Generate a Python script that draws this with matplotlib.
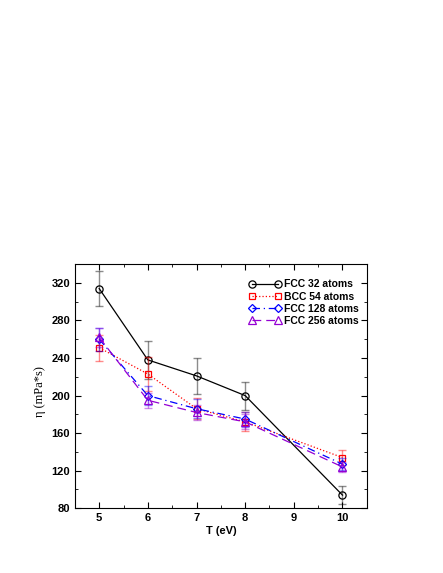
import matplotlib
matplotlib.use("Agg")
import matplotlib.pyplot as plt
from matplotlib.ticker import MultipleLocator

plt.rcParams["font.family"] = ["Liberation Sans", "DejaVu Sans"]
plt.rcParams["font.weight"] = "bold"

temps = [5, 6, 7, 8, 10]

fcc32 = [314, 238, 221, 200, 94]
fcc32_err = [19, 20, 19, 15, 10]

bcc54 = [251, 223, 186, 172, 134]
bcc54_err = [14, 18, 11, 10, 8]

fcc128 = [260, 200, 186, 175, 127]
fcc128_err = [12, 10, 10, 8, 6]

fcc256 = [262, 195, 182, 172, 124]
fcc256_err = [10, 8, 8, 8, 5]

series = [
    ("FCC 32 atoms", fcc32, fcc32_err, "black", "-", "o", 5.2),
    ("BCC 54 atoms", bcc54, bcc54_err, "red", ":", "s", 4.3),
    ("FCC 128 atoms", fcc128, fcc128_err, "blue", (0, (6, 3, 1, 3)), "D", 3.8),
    ("FCC 256 atoms", fcc256, fcc256_err, "#9400d3", (0, (7, 4)), "^", 5.2),
]

fig = plt.figure(figsize=(4.43, 5.73), dpi=100)
ax = fig.add_axes([0.169, 0.113, 0.659, 0.426])

for label, vals, errs, color, ls, marker, ms in series:
    ax.errorbar(temps, vals, yerr=errs, fmt="none", ecolor=color, alpha=0.45,
                elinewidth=1.0, capsize=3, capthick=1.0)
    ax.plot(temps, vals, color=color, linestyle=ls, linewidth=0.9,
            marker=marker, markersize=ms, markerfacecolor="none",
            markeredgecolor=color, markeredgewidth=0.9, label=label)

ax.set_xlim(4.5, 10.5)
ax.set_ylim(80, 340)
ax.xaxis.set_major_locator(MultipleLocator(1))
ax.xaxis.set_minor_locator(MultipleLocator(0.5))
ax.yaxis.set_major_locator(MultipleLocator(40))
ax.yaxis.set_minor_locator(MultipleLocator(20))
ax.tick_params(which="both", direction="in", top=True, right=True, labelsize=8)
ax.tick_params(which="major", length=4)
ax.tick_params(which="minor", length=2)
for lab in ax.get_xticklabels() + ax.get_yticklabels():
    lab.set_fontweight("bold")

ax.set_xlabel("T (eV)", fontsize=8, fontweight="bold", labelpad=2)
ax.set_ylabel("η (mPa*s)", fontsize=9, family=["Liberation Serif", "DejaVu Serif"],
              fontweight="normal")
ax.yaxis.set_label_coords(-0.10, 0.48)

leg = ax.legend(loc="upper right", bbox_to_anchor=(1.0, 0.97), frameon=False,
                fontsize=7.5, numpoints=2, handlelength=3.1, handletextpad=0.3,
                labelspacing=0.2, borderaxespad=0.37)
for t in leg.get_texts():
    t.set_fontweight("bold")

fig.savefig("out.png", dpi=100)
